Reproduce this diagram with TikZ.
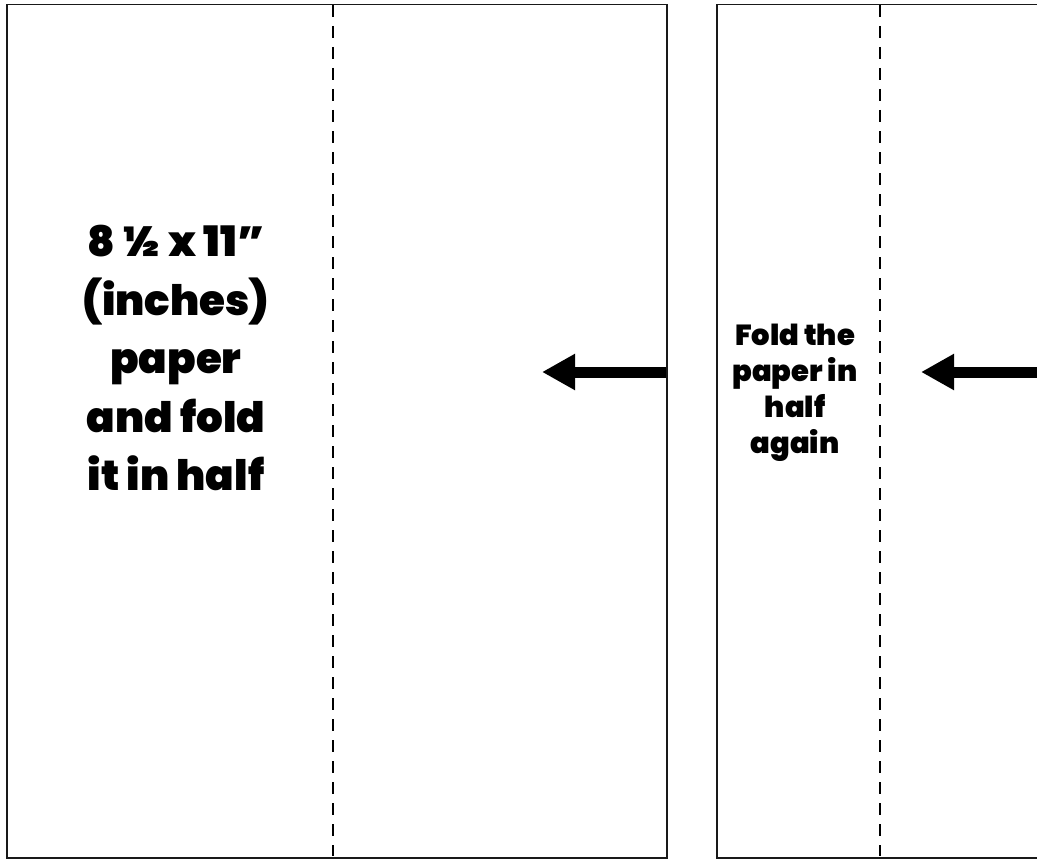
\documentclass[tikz,border=0pt]{standalone}
\usepackage{fontspec}
\IfFontExistsTF{Poppins Black}{\newfontfamily\bub{Poppins Black}}{\newfontfamily\bub{Poppins}[UprightFont=*,UprightFeatures={FakeBold=1.5}]}
\usetikzlibrary{arrows.meta}
\tikzset{
  sheet/.style={draw=black!90, line width=1.5pt, fill=white, inner sep=0pt, anchor=north west},
  foldline/.style={draw=black, line width=2.6pt, dash pattern=on 12pt off 9pt},
  bigarrow/.style={draw=black, line width=11pt, -{Triangle[length=33pt,width=34pt]}},
  bigtext/.style={align=center, font=\bub\fontsize{42}{58.5}\selectfont, inner sep=0pt},
  smalltext/.style={align=center, font=\bub\fontsize{29}{36}\selectfont, inner sep=0pt}
}
\begin{document}
\begin{tikzpicture}[x=1pt,y=-1pt]
\useasboundingbox (0,0) rectangle (1037,859);
\clip (0,0) rectangle (1037,859);
\node[sheet, minimum width=660pt, minimum height=853pt] (s1) at (6,4) {};
\node[sheet, minimum width=400pt, minimum height=853pt] (s2) at (716,4) {};
\coordinate (d1t) at (333,5);
\coordinate (d1b) at (333,856);
\coordinate (d2t) at (880,5);
\coordinate (d2b) at (880,856);
\draw[foldline] (d1t) -- (d1b);
\draw[foldline] (d2t) -- (d2b);
\coordinate (a1s) at (666,372);
\coordinate (a1e) at (542,372);
\coordinate (a2s) at (1040,372);
\coordinate (a2e) at (921,372);
\draw[bigarrow] (a1s) -- (a1e);
\draw[bigarrow] (a2s) -- (a2e);
\node[bigtext] (t1) at (176,358) {8 ½ x 11”\\(inches)\\paper\\and fold\\it in half};
\node[smalltext] (t2) at (795,393) {Fold the\\paper in\\half\\again};
\end{tikzpicture}
\end{document}
